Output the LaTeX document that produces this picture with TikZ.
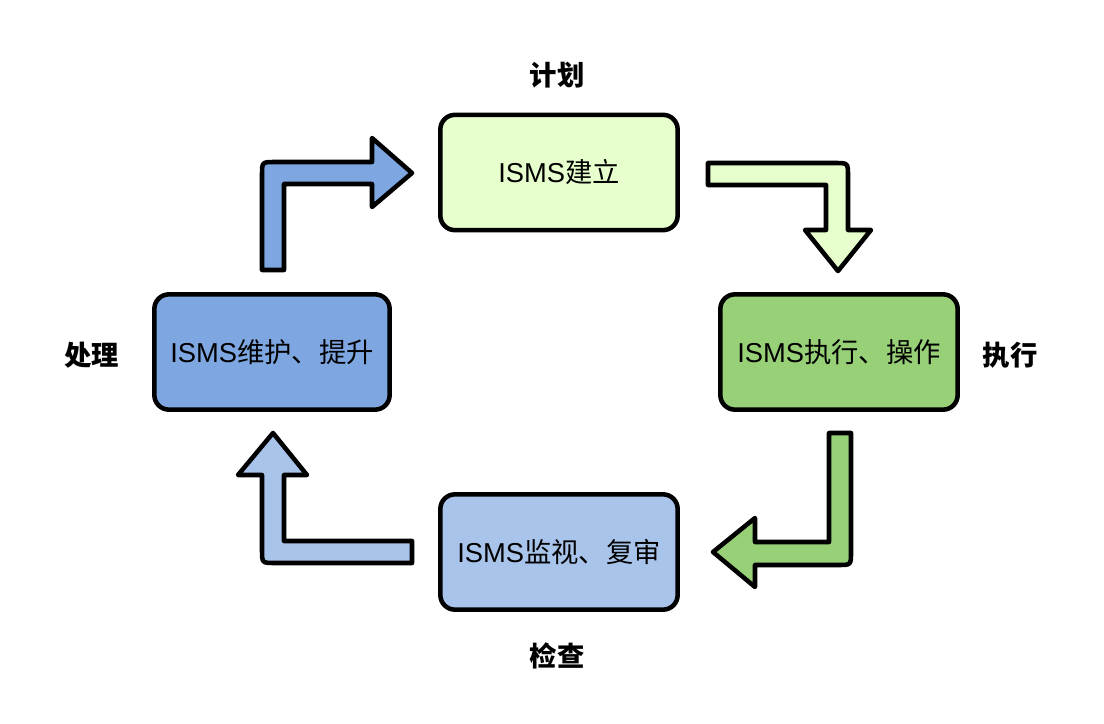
\documentclass[tikz,border=0pt]{standalone}
\usepackage{fontspec}
\setmainfont{Liberation Sans}
\newfontfamily\cjk{Noto Sans CJK SC}
\definecolor{lgreen}{HTML}{E6FFCC}
\definecolor{dgreen}{HTML}{97D077}
\definecolor{lblue}{HTML}{A9C4EB}
\definecolor{dblue}{HTML}{7EA6E0}
\begin{document}
\begin{tikzpicture}[x=0.75pt,y=-0.75pt,
  box/.style={draw=black, line width=3.4pt, rounded corners=11pt, minimum width=178pt, minimum height=86.5pt, inner sep=0pt, outer sep=0pt, font=\fontsize{20.5}{24}\selectfont},
  lbl/.style={font=\fontsize{20.5}{24}\selectfont\cjk\bfseries, inner sep=0pt},
  barrow/.style={draw=black, line width=3.4pt, line join=round}]
\useasboundingbox (0,0) rectangle (1104,724);
\node[box, fill=lgreen] (plan) at (559,172.5) {ISMS{\cjk 建立}};
\node[box, fill=dgreen] (do) at (839,352) {ISMS{\cjk 执行、操作}};
\node[box, fill=lblue] (check) at (559,552) {ISMS{\cjk 监视、复审}};
\node[box, fill=dblue, minimum width=176.5pt] (act) at (272,352) {ISMS{\cjk 维护、提升}};
\node[lbl] (lplan) at (557,75) {计划};
\node[lbl] (ldo) at (1010,355) {执行};
\node[lbl] (lcheck) at (557,656) {检查};
\node[lbl] (lact) at (92,355) {处理};
% arrow plan -> do
\draw[barrow, fill=lgreen] (708,163) -- (835,163) .. controls (848,163) .. (848,176) -- (848,230) -- (871,230) -- (838,271) -- (805,230) -- (826,230) -- (826,185) -- (708,185) -- cycle;
% arrow do -> check
\draw[barrow, fill=dgreen] (829,433) -- (851,433) -- (851,552) .. controls (851,565) .. (838,565) -- (755,565) -- (755,587) -- (713,552) -- (755,518) -- (755,542) -- (829,542) -- cycle;
% arrow check -> act
\draw[barrow, fill=lblue] (412,541) -- (412,563) -- (275,563) .. controls (262,563) .. (262,550) -- (262,475) -- (238,475) -- (273,433) -- (307,475) -- (284,475) -- (284,541) -- cycle;
% arrow act -> plan
\draw[barrow, fill=dblue] (262,270) -- (262,175) .. controls (262,162) .. (275,162) -- (372,162) -- (372,138) -- (412,173) -- (372,207) -- (372,184) -- (284,184) -- (284,270) -- cycle;
\end{tikzpicture}
\end{document}
